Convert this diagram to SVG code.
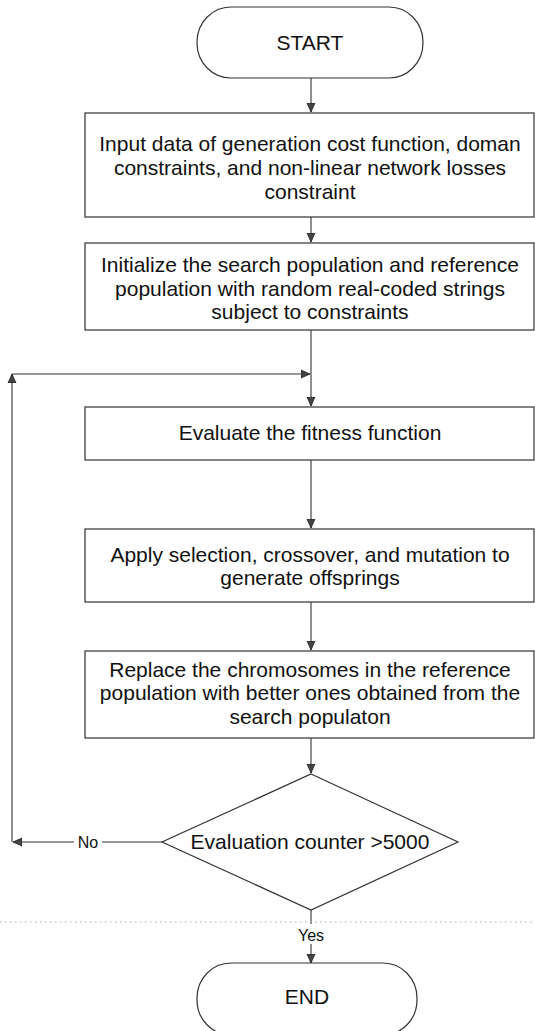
<svg xmlns="http://www.w3.org/2000/svg" width="535" height="1031" viewBox="0 0 535 1031">
<style>
.box{fill:#fff;stroke:#333;stroke-width:1.2}
.t{font-family:"Liberation Sans",Arial,sans-serif;font-size:21px;fill:#111;text-anchor:middle}
.s{font-family:"Liberation Sans",Arial,sans-serif;font-size:16px;fill:#111;text-anchor:middle}
.c{fill:none;stroke:#333;stroke-width:1.1}
</style>
<defs>
<marker id="ah" markerWidth="10" markerHeight="10" refX="9" refY="5" orient="auto" markerUnits="userSpaceOnUse">
<path d="M0,1 L9,5 L0,9 Z" fill="#444" stroke="#222" stroke-width="0.8"/>
</marker>
</defs>
<g id="connectors">
<line class="c" x1="311" y1="78" x2="311" y2="112" marker-end="url(#ah)"/>
<line class="c" x1="311" y1="217" x2="311" y2="242" marker-end="url(#ah)"/>
<line class="c" x1="311" y1="330" x2="311" y2="406" marker-end="url(#ah)"/>
<line class="c" x1="311" y1="460" x2="311" y2="528" marker-end="url(#ah)"/>
<line class="c" x1="311" y1="602" x2="311" y2="650" marker-end="url(#ah)"/>
<line class="c" x1="311" y1="738" x2="311" y2="773" marker-end="url(#ah)"/>
<line class="c" x1="311" y1="910" x2="311" y2="924"/>
<line class="c" x1="311" y1="944" x2="311" y2="963" marker-end="url(#ah)"/>
<line class="c" x1="162" y1="842" x2="102" y2="842"/>
<line class="c" x1="74" y1="842" x2="13" y2="842" marker-end="url(#ah)"/>
<line class="c" x1="12" y1="842" x2="12" y2="374" marker-end="url(#ah)"/>
<line class="c" x1="12" y1="374" x2="310" y2="374" marker-end="url(#ah)"/>
<line x1="0" y1="922" x2="535" y2="922" stroke="#aaa" stroke-width="1" stroke-dasharray="1.5 3.5"/>
<text class="s" x="88" y="848">No</text>
<text class="s" x="311" y="941">Yes</text>
</g>
<g id="start">
<rect class="box" x="197" y="7" width="226" height="71" rx="34" ry="35"/>
<text class="t" x="310" y="50">START</text>
</g>
<g id="input">
<rect class="box" x="85" y="113" width="449" height="104"/>
<text class="t" x="310" y="151">Input data of generation cost function, doman</text>
<text class="t" x="310" y="175">constraints, and non-linear network losses</text>
<text class="t" x="310" y="199">constraint</text>
</g>
<g id="init">
<rect class="box" x="85" y="243" width="449" height="87"/>
<text class="t" x="310" y="272">Initialize the search population and reference</text>
<text class="t" x="310" y="296">population with random real-coded strings</text>
<text class="t" x="310" y="319">subject to constraints</text>
</g>
<g id="evaluate">
<rect class="box" x="85" y="407" width="449" height="53"/>
<text class="t" x="310" y="440">Evaluate the fitness function</text>
</g>
<g id="apply">
<rect class="box" x="85" y="529" width="449" height="73"/>
<text class="t" x="310" y="562">Apply selection, crossover, and mutation to</text>
<text class="t" x="310" y="585">generate offsprings</text>
</g>
<g id="replace">
<rect class="box" x="85" y="651" width="449" height="87"/>
<text class="t" x="310" y="677">Replace the chromosomes in the reference</text>
<text class="t" x="310" y="700">population with better ones obtained from the</text>
<text class="t" x="310" y="724">search populaton</text>
</g>
<g id="decision">
<polygon class="box" points="311,774 458,842 311,910 162,842"/>
<text class="t" x="310" y="849">Evaluation counter &gt;5000</text>
</g>
<g id="end">
<rect class="box" x="197" y="963" width="220" height="72" rx="34" ry="35"/>
<text class="t" x="307" y="1004">END</text>
</g>
</svg>
